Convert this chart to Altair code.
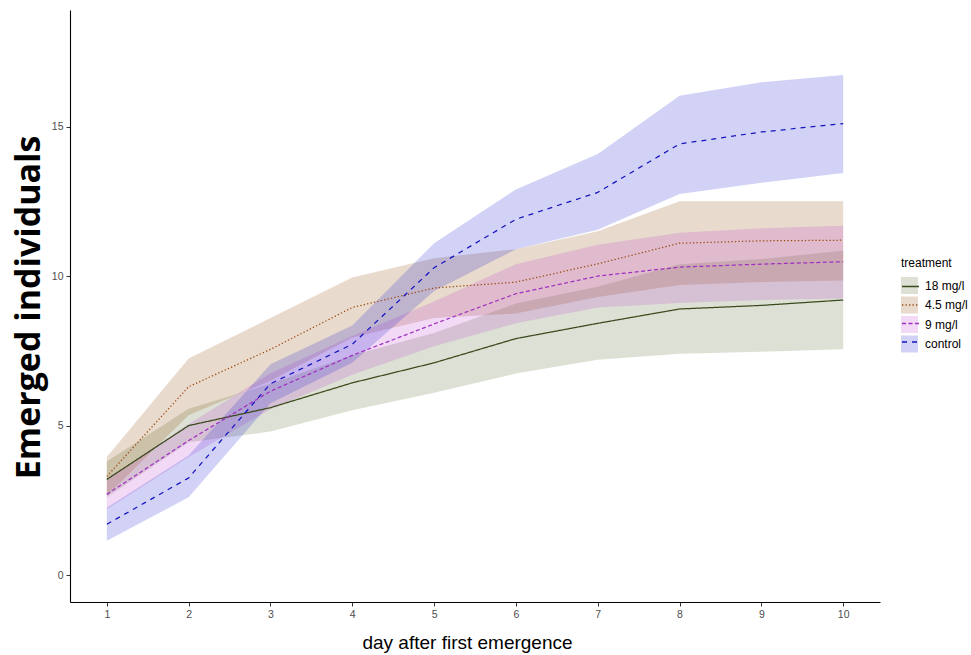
import altair as alt
import pandas as pd

days = [1, 2, 3, 4, 5, 6, 7, 8, 9, 10]
treatments = ["18 mg/l", "4.5 mg/l", "9 mg/l", "control"]

mean_18 = [3.2, 5.0, 5.6, 6.43, 7.1, 7.91, 8.42, 8.9, 9.02, 9.2]
lo_18 = [2.6, 4.44, 4.8, 5.51, 6.1, 6.74, 7.2, 7.4, 7.47, 7.55]
hi_18 = [3.8, 5.56, 6.4, 7.35, 8.1, 9.08, 9.64, 10.4, 10.57, 10.85]

mean_45 = [3.3, 6.3, 7.55, 8.95, 9.6, 9.8, 10.41, 11.1, 11.18, 11.2]
lo_45 = [2.65, 5.35, 6.5, 7.95, 8.6, 8.75, 9.3, 9.7, 9.8, 9.85]
hi_45 = [3.95, 7.24, 8.6, 9.95, 10.6, 10.9, 11.5, 12.5, 12.5, 12.5]

mean_9 = [2.7, 4.5, 6.15, 7.35, 8.4, 9.41, 10.0, 10.3, 10.4, 10.48]
lo_9 = [2.2, 3.95, 5.55, 6.7, 7.65, 8.42, 8.95, 9.1, 9.2, 9.25]
hi_9 = [3.2, 5.05, 6.75, 8.0, 9.15, 10.4, 11.05, 11.45, 11.6, 11.68]

mean_ctrl = [1.7, 3.25, 6.4, 7.72, 10.28, 11.9, 12.8, 14.42, 14.82, 15.1]
lo_ctrl = [1.15, 2.6, 5.75, 7.1, 9.5, 10.9, 11.55, 12.75, 13.12, 13.45]
hi_ctrl = [2.25, 4.0, 7.05, 8.35, 11.1, 12.9, 14.08, 16.03, 16.48, 16.73]

line_colors = ["#3a4a1c", "#9c4a10", "#a030c0", "#1414c0"]
fill_colors = ["#556b2f", "#8b4500", "#c040d0", "#1e1ed2"]
dashes = [[1, 0], [1.3, 2.2], [4, 2.5], [5, 5]]

series = {
    "18 mg/l": (mean_18, lo_18, hi_18),
    "4.5 mg/l": (mean_45, lo_45, hi_45),
    "9 mg/l": (mean_9, lo_9, hi_9),
    "control": (mean_ctrl, lo_ctrl, hi_ctrl),
}
rows = []
for t in treatments:
    m, lo, hi = series[t]
    for d, a, b, c in zip(days, m, lo, hi):
        rows.append({"day": d, "treatment": t, "mean": a, "lo": b, "hi": c})
df = pd.DataFrame(rows)

xscale = alt.Scale(domain=[0.55, 10.45], nice=False, zero=False)
yscale = alt.Scale(domain=[-0.9, 18.9], nice=False, zero=False)

xaxis = alt.Axis(values=days, format="d", title="day after first emergence",
                 titleFont="Liberation Sans", titleFontSize=19, titleFontWeight="normal",
                 titleColor="#000000", titleX=397, titleY=46, titleBaseline="alphabetic",
                 titleAlign="center")
yaxis = alt.Axis(values=[0, 5, 10, 15], format="d", title="Emerged individuals",
                 titleFont="Open Sans", titleFontSize=34, titleFontWeight="bold",
                 titleColor="#000000", titleX=-41, titleY=297, titleAngle=270,
                 titleAlign="center", titleBaseline="middle")

common = dict(orient="none", legendX=831, padding=0,
              labelFont="Liberation Sans", labelFontSize=12, labelColor="#000000",
              labelOffset=7, rowPadding=2.5, symbolSize=289)

fill_legend = alt.Legend(symbolType="square", symbolOpacity=0.2, symbolStrokeWidth=0,
                         legendY=248, title="treatment", titleFont="Liberation Sans",
                         titleFontSize=12, titleFontWeight="normal", titleColor="#000000",
                         titlePadding=7, **common)
line_legend = alt.Legend(symbolType="stroke", symbolStrokeWidth=1.3, legendY=267,
                         title=None, labelExpr="''", **common)

bands = alt.Chart(df).mark_area(opacity=0.2).encode(
    x=alt.X("day:Q", scale=xscale, axis=xaxis),
    y=alt.Y("lo:Q", scale=yscale, axis=yaxis),
    y2="hi:Q",
    fill=alt.Fill("treatment:N", scale=alt.Scale(range=fill_colors), legend=fill_legend),
)

lines = alt.Chart(df).mark_line(strokeWidth=1.25).encode(
    x=alt.X("day:Q", scale=xscale, axis=xaxis),
    y=alt.Y("mean:Q", scale=yscale, axis=yaxis),
    stroke=alt.Stroke("treatment:N", scale=alt.Scale(domain=treatments, range=line_colors),
                      legend=line_legend),
    strokeDash=alt.StrokeDash("treatment:N", scale=alt.Scale(domain=treatments, range=dashes),
                              legend=line_legend),
)

chart = alt.layer(bands, lines).properties(
    width=810, height=592,
    autosize=alt.AutoSizeParams(type="none"),
    padding={"left": 70, "top": 10, "right": 91, "bottom": 53},
).configure_view(stroke=None).configure_axis(
    grid=False, domainColor="#000000", domainWidth=1.1, tickColor="#333333",
    tickSize=4, labelColor="#4d4d4d", labelFont="Liberation Sans", labelFontSize=10.5,
    labelPadding=3,
)

chart.save("out.html", embed_options={"renderer": "svg", "actions": False})
